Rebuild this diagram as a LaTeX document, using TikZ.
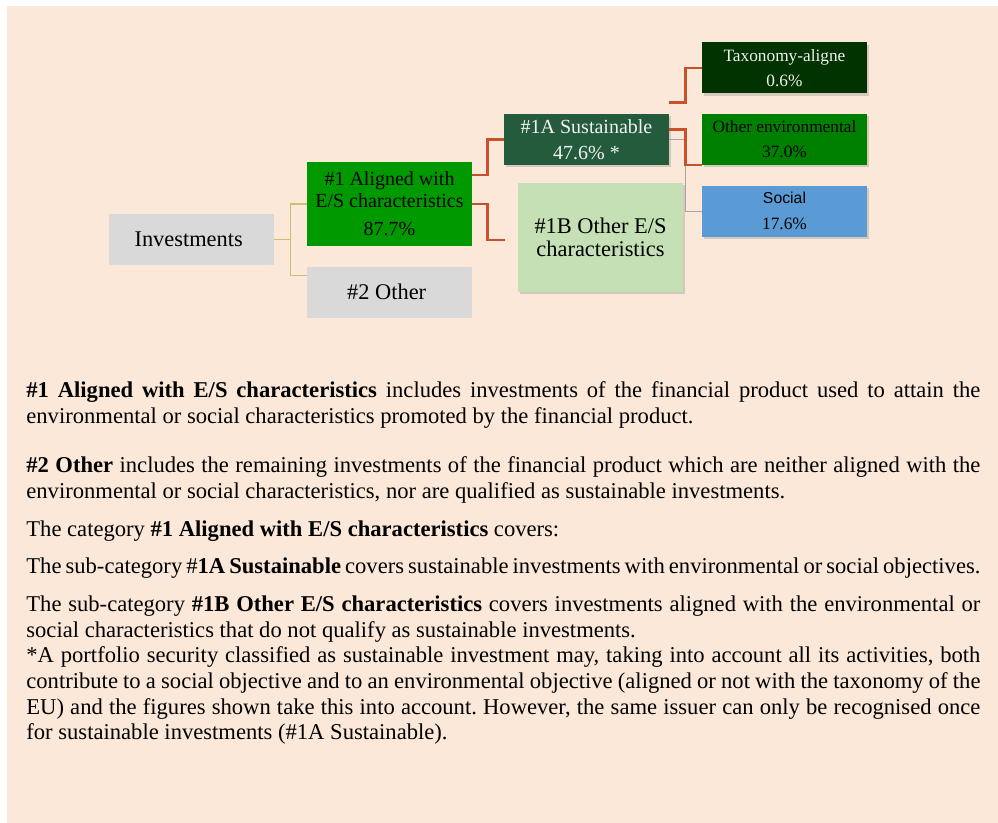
\documentclass[tikz,border=0pt]{standalone}
\usepackage{fontspec}
\setmainfont{Liberation Serif}
\setsansfont{Liberation Sans}
\usepackage{xcolor}
\usepackage{tikz}
\usetikzlibrary{
  positioning,
  shadows
}
\definecolor{PanelPeach}{HTML}{FBE8D8}
\definecolor{BoxGray}{HTML}{D9D9D9}
\definecolor{BrightGreen}{HTML}{009A00}
\definecolor{ForestGreen}{HTML}{245B3C}
\definecolor{PaleGreen}{HTML}{C5E0B4}
\definecolor{DeepGreen}{HTML}{003300}
\definecolor{MidGreen}{HTML}{008000}
\definecolor{SocialBlue}{HTML}{5B9BD5}
\definecolor{PaleText}{HTML}{F2F2F2}
\definecolor{LinkRed}{HTML}{C9502C}
\definecolor{LinkYellow}{HTML}{CDBF72}
\definecolor{LinkGray}{HTML}{A6A6A6}
\tikzset{
  box/.style={
    align=center,
    inner sep=1pt,
    minimum width=82.5pt,
    minimum height=25.5pt
  },
  plain/.style={
    box,
    fill=BoxGray,
    font=\fontsize{11.2}{13}\selectfont
  },
  shaded/.style={
    box,
    drop shadow={
      opacity=0.3,
      shadow xshift=0.8pt,
      shadow yshift=-1.2pt
    }
  },
  trunk/.style={
    draw=LinkYellow,
    line width=0.7pt
  },
  branch/.style={
    draw=LinkRed,
    line width=1.1pt
  },
  twig/.style={
    draw=LinkGray,
    line width=0.7pt
  },
  note/.style={
    anchor=base west,
    inner sep=0pt,
    text width=477pt,
    align=justify,
    font=\fontsize{11.3}{12.8}\selectfont\frenchspacing
  }
}

\begin{document}
\begin{tikzpicture}[
  x=0.5pt,
  y={(0pt,-0.5pt)},
  node distance=10pt
]

  \useasboundingbox (0,0) rectangle (998,823);
  \fill[PanelPeach] (7,6) rectangle (998,823);

  \node[
    plain
  ] (investments) at (191.5,239.5) {
    Investments
  };

  \node[
    box,
    fill=BrightGreen,
    minimum height=42pt,
    font=\fontsize{10}{11}\selectfont
  ] (aligned) at (389.5,204) {
    \#1 Aligned with\\
    E/S characteristics\\[3pt]
    87.7\%
  };

  \node[
    plain,
    below=of aligned
  ] (other) {
    \#2 Other
  };

  \node[
    shaded,
    fill=ForestGreen,
    text=PaleText,
    font=\fontsize{10}{13}\selectfont
  ] (sustainable) at (586.5,139.5) {
    \#1A Sustainable\\
    47.6\% *
  };

  \node[
    shaded,
    fill=PaleGreen,
    minimum height=54.5pt,
    font=\fontsize{11.2}{11.2}\selectfont
  ] (otherCharacteristics) at (600.5,237.5) {
    \#1B Other E/S\\
    characteristics
  };

  \node[
    shaded,
    fill=MidGreen,
    font=\fontsize{8.65}{12.5}\selectfont
  ] (otherEnvironmental) at (784.5,139.5) {
    Other environmental\\
    37.0\%
  };

  \node[
    shaded,
    fill=DeepGreen,
    text=PaleText,
    font=\fontsize{8.65}{12.5}\selectfont,
    above=of otherEnvironmental
  ] (taxonomy) {
    Taxonomy-aligne\\
    0.6\%
  };

  \node[
    shaded,
    fill=SocialBlue,
    font=\fontsize{8.65}{13}\selectfont,
    below=of otherEnvironmental
  ] (social) {
    {\sffamily\fontsize{7.9}{13}\selectfont Social}\\
    17.6\%
  };

  \draw[trunk]
  (investments.east) --
  ++(8pt,0) |-
  (aligned.west);

  \draw[trunk]
  (investments.east) --
  ++(8pt,0) |-
  ([yshift=8.25pt]other.west);

  \draw[branch]
  ([yshift=14.5pt]aligned.east) --
  ++(7.5pt,0) |-
  (sustainable.west);

  \draw[branch]
  (aligned.east) --
  ++(7.5pt,0) |-
  ([xshift=-6.5pt,yshift=-1.25pt]otherCharacteristics.west);

  \draw[twig]
  (sustainable.east) --
  ++(8pt,0) |-
  (social.west);

  \draw[branch]
  ([yshift=5.5pt]sustainable.north east) --
  ++(8pt,0) |-
  (taxonomy.west);

  \draw[branch]
  ([yshift=5pt]sustainable.east) --
  ++(8pt,0) |-
  (otherEnvironmental.south west);

  \node[note] (alignedNote) at (26,398) {
    \textbf{\#1 Aligned with E/S characteristics} includes investments of the financial product used to attain the\linebreak
    environmental or social characteristics promoted by the financial product.
  };

  \node[note] (otherNote) at (26,473) {
    \textbf{\#2 Other} includes the remaining investments of the financial product which are neither aligned with the\linebreak
    environmental or social characteristics, nor are qualified as sustainable investments.
  };

  \node[note] (categoryNote) at (26,536.7) {
    The category \textbf{\#1 Aligned with E/S characteristics} covers:
  };

  \node[note] (sustainableNote) at (26,574) {
    \makebox[477pt][s]{The sub-category \#\textbf{1A Sustainable} covers sustainable investments with environmental or social objectives.}
  };

  \node[note] (characteristicsNote) at (26,611.7) {
    The sub-category \textbf{\#1B Other E/S characteristics} covers investments aligned with the environmental or\linebreak
    social characteristics that do not qualify as sustainable investments.\par
    *A portfolio security classified as sustainable investment may, taking into account all its activities, both\linebreak
    contribute to a social objective and to an environmental objective (aligned or not with the taxonomy of the\linebreak
    EU) and the figures shown take this into account. However, the same issuer can only be recognised once\linebreak
    for sustainable investments (\#1A Sustainable).
  };

\end{tikzpicture}
\end{document}
